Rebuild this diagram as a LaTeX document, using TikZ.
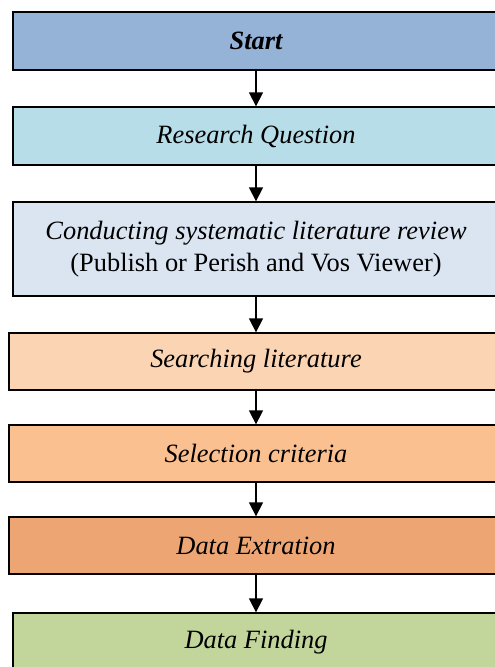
\documentclass[tikz,border=0pt]{standalone}
\usepackage{fontspec}
\setmainfont{Liberation Serif}
\definecolor{slrblue}{HTML}{95B3D7}
\definecolor{slraqua}{HTML}{B7DDE8}
\definecolor{slrpale}{HTML}{DBE5F1}
\definecolor{slrpeach}{HTML}{FBD4B4}
\definecolor{slrorange}{HTML}{FAC090}
\definecolor{slrdark}{HTML}{EDA673}
\definecolor{slrgreen}{HTML}{C2D69B}
\usetikzlibrary{arrows.meta,positioning}

\begin{document}
\begin{tikzpicture}[x=1pt,y=1pt,
  stage/.style={draw,line width=1.3pt,minimum width=486pt,minimum height=58pt,
    font=\fontsize{26.4}{32}\selectfont\itshape,align=center,inner sep=2pt},
  widestage/.style={stage,minimum width=494pt,minimum height=57pt},
  arr/.style={-{Triangle[length=14pt,width=14pt]},line width=1.3pt},
  node distance=35.7pt
]
  \useasboundingbox (0,0) rectangle (495,-667);
  \clip (0,0) rectangle (495,-667);

  % Stages
  \node[stage,fill=slrblue,font=\fontsize{26.4}{32}\selectfont\bfseries\itshape]
    (start) at (256,-41) {Start};
  \node[stage,fill=slraqua,below=of start] (question) {Research Question};
  \node[stage,fill=slrpale,minimum height=94pt,below=of question] (review)
    {Conducting systematic literature review\\\upshape(Publish or Perish and Vos Viewer)};
  \node[widestage,fill=slrpeach,below=of review] (search) {Searching literature};
  \node[widestage,fill=slrorange,below=33.7pt of search] (select) {Selection criteria};
  \node[widestage,fill=slrdark,below=33.7pt of select] (extract) {Data Extration};
  \node[stage,fill=slrgreen,below=37.7pt of extract] (finding) {Data Finding};

  % Arrows
  \draw[arr] (start) -- (question);
  \draw[arr] (question) -- (review);
  \draw[arr] (review) -- (search);
  \draw[arr] (search) -- (select);
  \draw[arr] (select) -- (extract);
  \draw[arr] (extract) -- (finding);
\end{tikzpicture}
\end{document}
